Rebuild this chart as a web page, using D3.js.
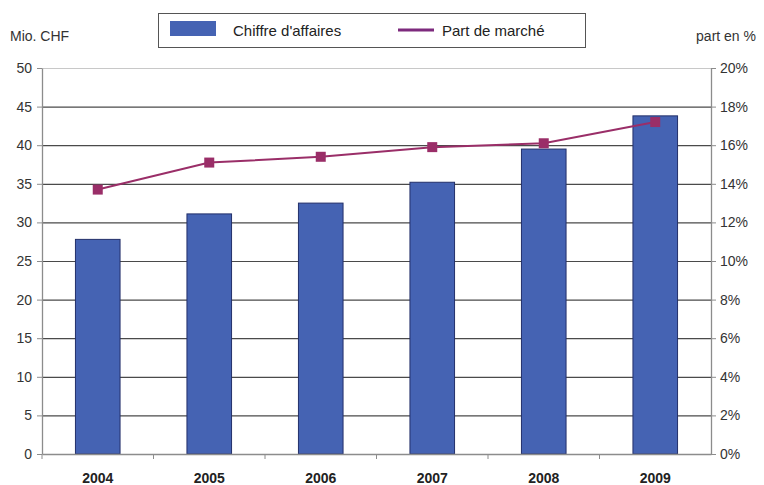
<!DOCTYPE html>
<html>
<head>
<meta charset="utf-8">
<script src="https://cdn.jsdelivr.net/npm/d3@7"></script>
<style>
body { margin: 0; background: #fff; }
text { font-family: "Liberation Sans", Arial, sans-serif; }
</style>
</head>
<body>
<div id="chart"></div>
<script>
var years = ['2004', '2005', '2006', '2007', '2008', '2009'];
var chiffre = [27.8, 31.1, 32.5, 35.2, 39.5, 43.8];
var part = [13.7, 15.1, 15.4, 15.9, 16.1, 17.2];
var left_ticks = [0, 5, 10, 15, 20, 25, 30, 35, 40, 45, 50];
var right_ticks = [0, 2, 4, 6, 8, 10, 12, 14, 16, 18, 20];

var chart_width = 764;
var chart_height = 485;
var margin = { left: 42, right: 53, top: 68, bottom: 31 };

var svg = d3.select('#chart')
    .append('svg')
    .attr('width', chart_width)
    .attr('height', chart_height)

var x_scale = d3.scaleBand()
    .domain(years)
    .range([margin.left, chart_width - margin.right])
    .paddingInner(0.6)
    .paddingOuter(0.3)

var x_outer = d3.scaleBand()
    .domain(years)
    .range([margin.left, chart_width - margin.right])

var y_left = d3.scaleLinear()
    .domain([0, 50])
    .range([chart_height - margin.bottom, margin.top])

var y_right = d3.scaleLinear()
    .domain([0, 20])
    .range([chart_height - margin.bottom, margin.top])

// gridlines
svg.selectAll('.grid')
    .data(left_ticks.slice(1))
    .enter()
    .append('line')
    .attr('x1', margin.left)
    .attr('x2', chart_width - margin.right)
    .attr('y1', function (d) { return y_left(d) + 0.5 })
    .attr('y2', function (d) { return y_left(d) + 0.5 })
    .attr('stroke', function (d) { return d == 50 ? '#c8c8c8' : '#4a4a4a' })
    .attr('stroke-width', 1.2)

// bars
svg.selectAll('rect.bar')
    .data(chiffre)
    .enter()
    .append('rect')
    .attr('class', 'bar')
    .attr('x', function (d, i) { return x_scale(years[i]) })
    .attr('y', function (d) { return y_left(d) })
    .attr('width', x_scale.bandwidth())
    .attr('height', function (d) { return y_left(0) - y_left(d) })
    .attr('fill', '#4563b3')
    .attr('stroke', '#23306a')
    .attr('stroke-width', 1)

// axes
var left_axis = d3.axisLeft(y_left).tickValues(left_ticks).tickSize(5).tickSizeOuter(0)
var right_axis = d3.axisRight(y_right).tickValues(right_ticks).tickSize(5).tickSizeOuter(0)
    .tickFormat(function (d) { return d + '%' })
var bottom_axis = d3.axisBottom(x_outer).tickSize(0).tickSizeOuter(0)

var gl = svg.append('g')
    .attr('transform', 'translate(' + margin.left + ',0)')
    .call(left_axis)
var gr = svg.append('g')
    .attr('transform', 'translate(' + (chart_width - margin.right) + ',0)')
    .call(right_axis)
var gb = svg.append('g')
    .attr('transform', 'translate(0,' + y_left(0) + ')')
    .call(bottom_axis)

;[gl, gr, gb].forEach(function (g) {
    g.select('.domain').attr('stroke', '#8c8c8c').attr('stroke-width', 1.3)
    g.selectAll('.tick line').attr('stroke', '#8c8c8c')
    g.selectAll('text').attr('font-size', 14).attr('fill', '#333').attr('font-family', '"Liberation Sans", Arial, sans-serif')
})
gl.selectAll('text').attr('x', -10)
gr.selectAll('text').attr('x', 9)
gb.selectAll('text').attr('y', 19).attr('font-weight', 'bold').attr('font-size', 14).attr('fill', '#222')

// x ticks between categories
svg.selectAll('.xtick')
    .data(years)
    .enter()
    .append('line')
    .attr('x1', function (d) { return x_outer(d) })
    .attr('x2', function (d) { return x_outer(d) })
    .attr('y1', y_left(0))
    .attr('y2', y_left(0) + 5)
    .attr('stroke', '#8c8c8c')

// line
var line = d3.line()
    .x(function (d, i) { return x_outer(years[i]) + x_outer.bandwidth() / 2 })
    .y(function (d) { return y_right(d) })

svg.append('path')
    .datum(part)
    .attr('d', line)
    .attr('fill', 'none')
    .attr('stroke', '#9a2e68')
    .attr('stroke-width', 2)

svg.selectAll('rect.marker')
    .data(part)
    .enter()
    .append('rect')
    .attr('class', 'marker')
    .attr('x', function (d, i) { return x_outer(years[i]) + x_outer.bandwidth() / 2 - 5 })
    .attr('y', function (d) { return y_right(d) - 5 })
    .attr('width', 10)
    .attr('height', 10)
    .attr('fill', '#9a2e68')

// axis titles
svg.append('text')
    .attr('x', 10)
    .attr('y', 41)
    .attr('font-size', 14)
    .attr('fill', '#333')
    .text('Mio. CHF')

svg.append('text')
    .attr('x', 756)
    .attr('y', 41)
    .attr('text-anchor', 'end')
    .attr('font-size', 14)
    .attr('fill', '#333')
    .text('part en %')

// legend
svg.append('rect')
    .attr('x', 158.5)
    .attr('y', 13.5)
    .attr('width', 427)
    .attr('height', 34)
    .attr('fill', '#fff')
    .attr('stroke', '#555')
svg.append('rect')
    .attr('x', 170)
    .attr('y', 21)
    .attr('width', 46)
    .attr('height', 15)
    .attr('fill', '#4563b3')
svg.append('text')
    .attr('x', 233)
    .attr('y', 36)
    .attr('font-size', 15)
    .attr('fill', '#222')
    .text("Chiffre d'affaires")
svg.append('line')
    .attr('x1', 398)
    .attr('x2', 434)
    .attr('y1', 30)
    .attr('y2', 30)
    .attr('stroke', '#7d2a7d')
    .attr('stroke-width', 3)
svg.append('text')
    .attr('x', 442)
    .attr('y', 36)
    .attr('font-size', 15)
    .attr('fill', '#222')
    .text('Part de marché')
</script>
</body>
</html>
